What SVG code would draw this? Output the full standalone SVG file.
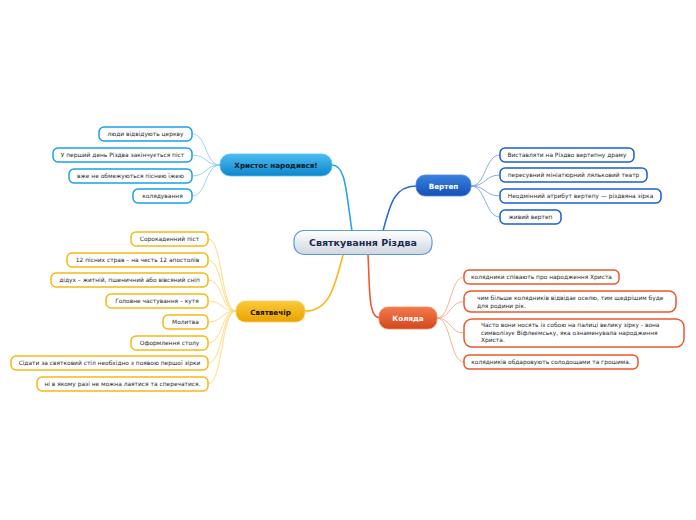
<svg xmlns="http://www.w3.org/2000/svg" width="696" height="520" viewBox="0 0 696 520">
<defs>
<linearGradient id="gC" x1="0" y1="0" x2="0" y2="1"><stop offset="0" stop-color="#ffffff"/><stop offset="1" stop-color="#cfd6e0"/></linearGradient>
<linearGradient id="gX" x1="0" y1="0" x2="0" y2="1"><stop offset="0" stop-color="#4cbcf0"/><stop offset="1" stop-color="#0d86cc"/></linearGradient>
<linearGradient id="gV" x1="0" y1="0" x2="0" y2="1"><stop offset="0" stop-color="#3a82e0"/><stop offset="1" stop-color="#1450b4"/></linearGradient>
<linearGradient id="gS" x1="0" y1="0" x2="0" y2="1"><stop offset="0" stop-color="#fcc93a"/><stop offset="1" stop-color="#e8a300"/></linearGradient>
<linearGradient id="gK" x1="0" y1="0" x2="0" y2="1"><stop offset="0" stop-color="#f47a4e"/><stop offset="1" stop-color="#d4461c"/></linearGradient>
</defs>
<style>
text{font-family:"DejaVu Sans",Verdana,sans-serif;}
.leaf{font-size:5.9px;fill:#2a2a2a;}
.mid{text-anchor:middle;}
.t{font-weight:bold;font-size:7.2px;text-anchor:middle;}
.lx{fill:#ffffff;stroke:#1aa0e4;stroke-width:1.5;}
.lv{fill:#ffffff;stroke:#1a5fd0;stroke-width:1.5;}
.ls{fill:#ffffff;stroke:#f5b814;stroke-width:1.5;}
.lk{fill:#ffffff;stroke:#e8582c;stroke-width:1.5;}
.c{fill:none;}
.cx{stroke:#8ccff0;stroke-width:0.9;}
.cv{stroke:#7aa4e6;stroke-width:0.9;}
.cs{stroke:#fad878;stroke-width:0.9;}
.ck{stroke:#f7a88a;stroke-width:0.9;}
</style>
<g id="connectors" class="c">
<path d="M332 165 C346 165,346 192,352 231" stroke="#2aa4e4" stroke-width="1.6"/>
<path d="M383 231 C390 205,394 186,416 186" stroke="#2a68d4" stroke-width="1.6"/>
<path d="M343 255 C335 285,330 311,305 311" stroke="#f6b81c" stroke-width="1.6"/>
<path d="M368 255 C370 290,368 318,380 318" stroke="#e95c30" stroke-width="1.6"/>
<g class="cx">
<path d="M220 165 C205 165,207 134,192 134"/>
<path d="M220 165 C205 165,207 155,192 155"/>
<path d="M220 165 C205 165,207 176,192 176"/>
<path d="M220 165 C205 165,207 196,192 196"/>
</g>
<g class="cs">
<path d="M236 311 C221 311,223 239,208 239"/>
<path d="M236 311 C221 311,223 260,208 260"/>
<path d="M236 311 C221 311,223 280,208 280"/>
<path d="M236 311 C221 311,223 301,208 301"/>
<path d="M236 311 C221 311,223 322,208 322"/>
<path d="M236 311 C221 311,223 343,208 343"/>
<path d="M236 311 C221 311,223 363,208 363"/>
<path d="M236 311 C221 311,223 384,208 384"/>
</g>
<g class="cv">
<path d="M471 186 C486 186,485 155,500 155"/>
<path d="M471 186 C486 186,485 175,500 175"/>
<path d="M471 186 C486 186,485 196,500 196"/>
<path d="M471 186 C486 186,485 217,500 217"/>
</g>
<g class="ck">
<path d="M437 318 C451 318,450 277,464 277"/>
<path d="M437 318 C451 318,450 301.5,464 301.5"/>
<path d="M437 318 C451 318,450 333,464 333"/>
<path d="M437 318 C451 318,450 362,464 362"/>
</g>
</g>
<g id="center">
<rect x="294" y="230.5" width="138" height="24" rx="10" fill="url(#gC)" stroke="#5d9ad6" stroke-width="1.2"/>
<text x="363" y="246.2" style="font-weight:bold;font-size:9.5px;text-anchor:middle;fill:#1b2a4c">Святкування Різдва</text>
</g>
<g id="khrystos">
<rect x="220" y="154" width="112" height="22" rx="10" fill="url(#gX)" stroke="#55c0f0" stroke-width="0.8"/>
<text class="t" x="276" y="168" fill="#0b1a2a">Христос народився!</text>
</g>
<g id="vertep">
<rect x="416" y="175" width="55" height="21" rx="9" fill="url(#gV)" stroke="#4a8ae4" stroke-width="0.8"/>
<text class="t" x="443.5" y="188.5" fill="#ffffff">Вертеп</text>
</g>
<g id="sviatvechir">
<rect x="236" y="301" width="69" height="21" rx="9" fill="url(#gS)" stroke="#fcd060" stroke-width="0.8"/>
<text class="t" x="270.5" y="314.5" fill="#1a1200">Святвечір</text>
</g>
<g id="koliada">
<rect x="379" y="307" width="58" height="22" rx="9" fill="url(#gK)" stroke="#f58a60" stroke-width="0.8"/>
<text class="t" x="408" y="321" fill="#ffffff">Коляда</text>
</g>
<g id="x1"><rect class="lx" x="99" y="127" width="93" height="14" rx="5"/><text class="leaf mid" x="145.5" y="136">люди відвідують церкву</text></g>
<g id="x2"><rect class="lx" x="53" y="148" width="139" height="14" rx="5"/><text class="leaf mid" x="122.5" y="157">У перший день Різдва закінчується піст</text></g>
<g id="x3"><rect class="lx" x="69" y="169" width="123" height="14" rx="5"/><text class="leaf mid" x="130.5" y="178">вже не обмежуються піснею їжею</text></g>
<g id="x4"><rect class="lx" x="133" y="189" width="59" height="14" rx="5"/><text class="leaf mid" x="162.5" y="198">колядування</text></g>
<g id="s1"><rect class="ls" x="131" y="232" width="77" height="14" rx="5"/><text class="leaf mid" x="169.5" y="241">Сорокаденний піст</text></g>
<g id="s2"><rect class="ls" x="67" y="253" width="141" height="14" rx="5"/><text class="leaf mid" x="137.5" y="262">12 пісних страв – на честь 12 апостолів</text></g>
<g id="s3"><rect class="ls" x="51" y="273" width="157" height="14" rx="5"/><text class="leaf mid" x="129.5" y="282">дідух – житній, пшеничний або вівсяний сніп</text></g>
<g id="s4"><rect class="ls" x="106" y="294" width="102" height="14" rx="5"/><text class="leaf mid" x="157" y="303">Головне частування – кутя</text></g>
<g id="s5"><rect class="ls" x="163" y="315" width="45" height="14" rx="5"/><text class="leaf mid" x="185.5" y="324">Молитва</text></g>
<g id="s6"><rect class="ls" x="131" y="336" width="77" height="14" rx="5"/><text class="leaf mid" x="169.5" y="345">Оформлення столу</text></g>
<g id="s7"><rect class="ls" x="11" y="356" width="197" height="14" rx="5"/><text class="leaf mid" x="109.5" y="365">Сідати за святковий стіл необхідно з появою першої зірки</text></g>
<g id="s8"><rect class="ls" x="37" y="377" width="171" height="14" rx="5"/><text class="leaf mid" x="122.5" y="386">ні в якому разі не можна лаятися та сперечатися.</text></g>
<g id="v1"><rect class="lv" x="500" y="148" width="134" height="14" rx="5"/><text class="leaf mid" x="567" y="157">Виставляти на Різдво вертепну драму</text></g>
<g id="v2"><rect class="lv" x="500" y="168" width="147" height="14" rx="5"/><text class="leaf mid" x="573.5" y="177">пересувний мініатюрний ляльковий театр</text></g>
<g id="v3"><rect class="lv" x="500" y="189" width="161" height="14" rx="5"/><text class="leaf mid" x="580.5" y="198">Неодмінний атрибут вертепу — різдвяна зірка</text></g>
<g id="v4"><rect class="lv" x="500" y="210" width="61" height="14" rx="5"/><text class="leaf mid" x="530.5" y="219">живий вертеп</text></g>
<g id="k1"><rect class="lk" x="464" y="270" width="155" height="14" rx="5"/><text class="leaf mid" x="541.5" y="279">колядники співають про народження Христа</text></g>
<g id="k2"><rect class="lk" x="464" y="291" width="212" height="21" rx="7"/><text class="leaf" x="477" y="300">чим більше колядників відвідає оселю, тим щедрішим буде</text><text class="leaf" x="477" y="307.5">для родини рік.</text></g>
<g id="k3"><rect class="lk" x="464" y="319" width="220" height="28" rx="8"/><text class="leaf" x="481" y="327">Часто вони носять із собою на палиці велику зірку - вона</text><text class="leaf" x="481" y="334.5">символізує Віфлеємську, яка ознаменувала народження</text><text class="leaf" x="481" y="342">Христа.</text></g>
<g id="k4"><rect class="lk" x="464" y="355" width="174" height="14" rx="5"/><text class="leaf mid" x="551" y="364">колядників обдаровують солодощами та грошима.</text></g>
</svg>
